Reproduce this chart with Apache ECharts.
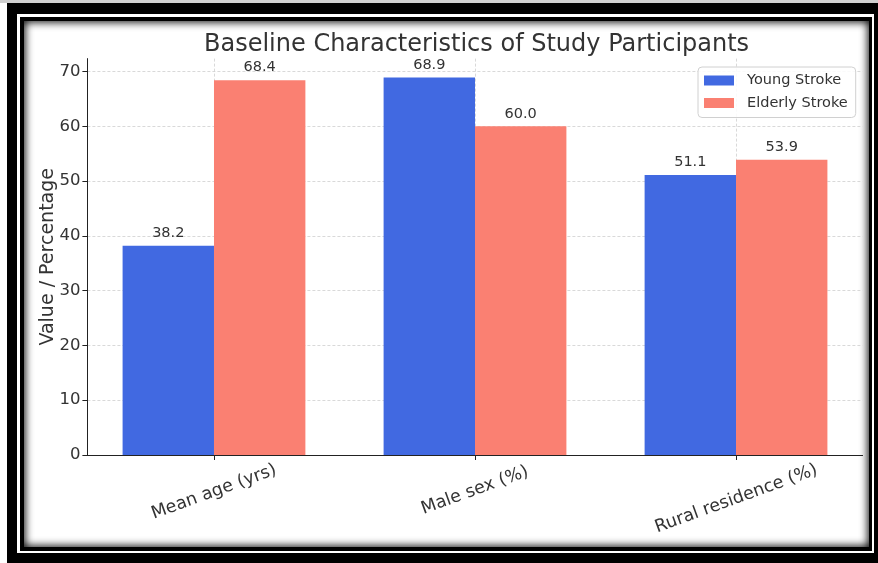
<!DOCTYPE html>
<html>
<head>
<meta charset="utf-8">
<script src="https://cdn.jsdelivr.net/npm/echarts@6/dist/echarts.min.js"></script>
<style>
  html, body { margin: 0; padding: 0; width: 878px; height: 563px; overflow: hidden; background: #fff; }
  .f { position: absolute; }
  #strip { left: 0; top: 0; width: 878px; height: 3px; background: #cfcfcf; }
  #f1 { left: 7px; top: 3px; width: 871px; height: 560px; background: #000; }
  #f2 { left: 17px; top: 14px; width: 857px; height: 539px; background: #fff; }
  #f3 { left: 20px; top: 17px; width: 852px; height: 534px; background: #000; }
  #f4 { left: 24px; top: 21px; width: 845px; height: 526px; background: #fff; box-shadow: inset 0 0 8px 1px #000; }
  #chart { position: absolute; left: 0; top: 0; width: 878px; height: 563px; z-index: 5; }
</style>
</head>
<body>
<div class="f" id="strip"></div>
<div class="f" id="f1"></div>
<div class="f" id="f2"></div>
<div class="f" id="f3"></div>
<div class="f" id="f4"></div>
<div id="chart"></div>
<script>
const titleText = 'Baseline Characteristics of Study Participants';
const categories = ['Mean age (yrs)', 'Male sex (%)', 'Rural residence (%)'];
const seriesNames = ['Young Stroke', 'Elderly Stroke'];
const youngStroke = [38.2, 68.9, 51.1];
const elderlyStroke = [68.4, 60.0, 53.9];
const yTicks = [0, 10, 20, 30, 40, 50, 60, 70];
const yAxisName = 'Value / Percentage';

const catIdx = categories.map((c, i) => i);
const font = 'DejaVu Sans';
const chart = echarts.init(document.getElementById('chart'), null, { renderer: 'canvas' });

function mk(name, values, color) {
  return {
    name: name,
    type: 'bar',
    data: values.map((v, i) => [i, v]),
    barWidth: 91.4,
    barGap: '0%',
    itemStyle: { color: color },
    label: {
      show: true,
      position: 'top',
      distance: 5,
      formatter: p => p.value[1].toFixed(1),
      fontFamily: font,
      fontSize: 14.5,
      color: '#333'
    },
    z: 3
  };
}

const labelTxt = { fontFamily: font, fontSize: 17.5, color: '#333' };

chart.setOption({
  backgroundColor: 'transparent',
  animation: false,
  title: {
    text: titleText,
    left: 199,
    top: 28,
    textStyle: { fontFamily: font, fontSize: 24, fontWeight: 'normal', color: '#333' }
  },
  legend: {
    orient: 'vertical',
    left: 698,
    top: 67,
    data: seriesNames,
    itemWidth: 30,
    itemHeight: 10,
    itemGap: 7.5,
    padding: [6, 8, 7, 6],
    borderColor: '#d0d0d0',
    borderWidth: 1,
    borderRadius: 4,
    backgroundColor: 'rgba(255,255,255,0.85)',
    icon: 'rect',
    textStyle: { fontFamily: font, fontSize: 14.5, color: '#333', padding: [0, 0, 0, 8] }
  },
  grid: { left: 87.4, right: 15.4, top: 58.6, bottom: 108, containLabel: false },
  xAxis: {
    type: 'value',
    min: -0.485,
    max: 2.485,
    axisLine: { show: true, onZero: false, lineStyle: { color: '#222', width: 1 } },
    axisTick: { show: true, customValues: catIdx, length: 5, lineStyle: { color: '#222' } },
    axisLabel: {
      customValues: catIdx,
      formatter: v => { const i = Math.round(v); return '{c' + i + '|' + categories[i] + '}'; },
      rotate: 20,
      align: 'center',
      verticalAlign: 'middle',
      margin: 37,
      fontFamily: font,
      fontSize: 17.5,
      color: '#333',
      rich: {
        c0: Object.assign({}, labelTxt),
        c1: Object.assign({ padding: [0, 0, 3, 1] }, labelTxt),
        c2: Object.assign({ padding: [13, 4, 0, 0] }, labelTxt)
      }
    },
    splitLine: { show: true, customValues: catIdx, lineStyle: { type: [3, 2], color: '#cfcfcf', width: 0.8 } }
  },
  yAxis: {
    type: 'value',
    min: 0,
    max: 72.345,
    name: yAxisName,
    nameLocation: 'middle',
    nameGap: 30,
    nameMoveOverlap: false,
    nameTextStyle: { fontFamily: font, fontSize: 19, color: '#333' },
    axisLine: { show: true, onZero: false, lineStyle: { color: '#222', width: 1 } },
    axisTick: { show: true, customValues: yTicks, length: 5, lineStyle: { color: '#222' } },
    axisLabel: { customValues: yTicks, margin: 7, fontFamily: font, fontSize: 16.5, color: '#333' },
    splitLine: { show: true, customValues: yTicks, lineStyle: { type: [3, 2], color: '#cfcfcf', width: 0.8 } }
  },
  series: [
    mk(seriesNames[0], youngStroke, '#4169E1'),
    mk(seriesNames[1], elderlyStroke, '#FA8072')
  ]
});
</script>
</body>
</html>
